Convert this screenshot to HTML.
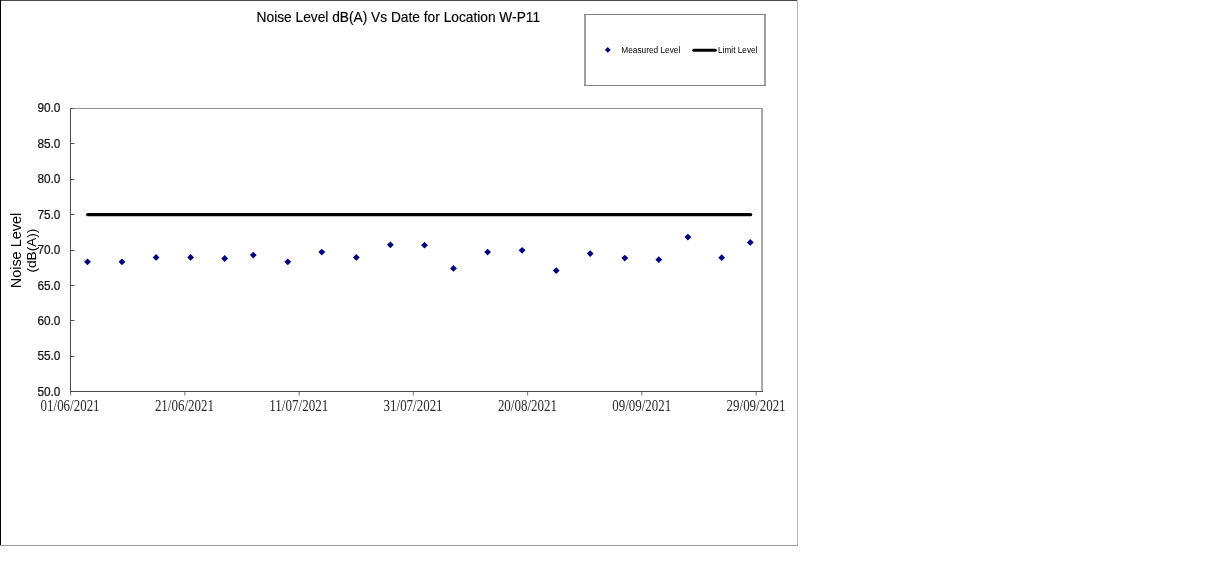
<!DOCTYPE html>
<html lang="en"><head><meta charset="utf-8"><title>Noise Level dB(A) Vs Date for Location W-P11</title>
<style>
html,body{margin:0;padding:0;background:#fff;}
body{width:1207px;height:570px;overflow:hidden;position:relative;}
svg{position:absolute;left:0;top:0;display:block;}
text{font-family:"Liberation Sans",Arial,sans-serif;fill:#000;}
.yl{fill:#111;stroke:#111;stroke-width:0.2px;}
.xl{font-family:"Liberation Serif","Times New Roman",serif;fill:#2a2a2a;}
</style></head><body>
<svg width="1207" height="570" viewBox="0 0 1207 570">
<rect x="0" y="0" width="1207" height="570" fill="#fff"/>

<g shape-rendering="crispEdges">
<rect x="0" y="0" width="798" height="1" fill="#4a4a4a"/>
<rect x="0" y="0" width="1" height="546" fill="#000"/>
<rect x="797" y="0" width="1" height="546" fill="#b8b8b8"/>
<rect x="0" y="545" width="798" height="1" fill="#999"/>
<rect x="70" y="108" width="693" height="1" fill="#8c8c8c"/>
<rect x="761" y="108" width="2" height="284" fill="#a8a8a8"/>
<rect x="71" y="108" width="3" height="1" fill="#555"/>
<rect x="74" y="108" width="1" height="1" fill="#aaa"/>
<rect x="71" y="143" width="3" height="1" fill="#555"/>
<rect x="74" y="143" width="1" height="1" fill="#aaa"/>
<rect x="71" y="179" width="3" height="1" fill="#555"/>
<rect x="74" y="179" width="1" height="1" fill="#aaa"/>
<rect x="71" y="214" width="3" height="1" fill="#555"/>
<rect x="74" y="214" width="1" height="1" fill="#aaa"/>
<rect x="71" y="250" width="3" height="1" fill="#555"/>
<rect x="74" y="250" width="1" height="1" fill="#aaa"/>
<rect x="71" y="285" width="3" height="1" fill="#555"/>
<rect x="74" y="285" width="1" height="1" fill="#aaa"/>
<rect x="71" y="320" width="3" height="1" fill="#555"/>
<rect x="74" y="320" width="1" height="1" fill="#aaa"/>
<rect x="71" y="356" width="3" height="1" fill="#555"/>
<rect x="74" y="356" width="1" height="1" fill="#aaa"/>
<rect x="71" y="391" width="3" height="1" fill="#555"/>
<rect x="74" y="391" width="1" height="1" fill="#aaa"/>
<rect x="70" y="108" width="1" height="284" fill="#4c4c4c"/>
<rect x="70" y="391" width="693" height="1" fill="#4c4c4c"/>
<rect x="584" y="14" width="2" height="72" fill="#a0a0a0"/>
<rect x="764" y="14" width="2" height="72" fill="#a0a0a0"/>
<rect x="584" y="14" width="182" height="1" fill="#808080"/>
<rect x="584" y="85" width="182" height="1" fill="#808080"/>
</g>
<rect x="70.10" y="392" width="1" height="3.4" fill="#707070"/>
<rect x="184.35" y="392" width="1" height="3.4" fill="#707070"/>
<rect x="298.60" y="392" width="1" height="3.4" fill="#707070"/>
<rect x="412.85" y="392" width="1" height="3.4" fill="#707070"/>
<rect x="527.10" y="392" width="1" height="3.4" fill="#707070"/>
<rect x="641.35" y="392" width="1" height="3.4" fill="#707070"/>
<rect x="755.60" y="392" width="1" height="3.4" fill="#707070"/>
<text x="256.6" y="22" font-size="13.9" stroke="#000" stroke-width="0.15" textLength="283.5" lengthAdjust="spacingAndGlyphs">Noise Level dB(A) Vs Date for Location W-P11</text>
<text class="yl" x="37.4" y="112.10" font-size="12.1" textLength="23" lengthAdjust="spacingAndGlyphs">90.0</text>
<text class="yl" x="37.4" y="147.58" font-size="12.1" textLength="23" lengthAdjust="spacingAndGlyphs">85.0</text>
<text class="yl" x="37.4" y="183.06" font-size="12.1" textLength="23" lengthAdjust="spacingAndGlyphs">80.0</text>
<text class="yl" x="37.4" y="218.54" font-size="12.1" textLength="23" lengthAdjust="spacingAndGlyphs">75.0</text>
<text class="yl" x="37.4" y="254.02" font-size="12.1" textLength="23" lengthAdjust="spacingAndGlyphs">70.0</text>
<text class="yl" x="37.4" y="289.50" font-size="12.1" textLength="23" lengthAdjust="spacingAndGlyphs">65.0</text>
<text class="yl" x="37.4" y="324.98" font-size="12.1" textLength="23" lengthAdjust="spacingAndGlyphs">60.0</text>
<text class="yl" x="37.4" y="360.46" font-size="12.1" textLength="23" lengthAdjust="spacingAndGlyphs">55.0</text>
<text class="yl" x="37.4" y="395.94" font-size="12.1" textLength="23" lengthAdjust="spacingAndGlyphs">50.0</text>
<text class="xl" x="40.6" y="410.8" font-size="15.7" textLength="59" lengthAdjust="spacingAndGlyphs">01/06/2021</text>
<text class="xl" x="154.9" y="410.8" font-size="15.7" textLength="59" lengthAdjust="spacingAndGlyphs">21/06/2021</text>
<text class="xl" x="269.3" y="410.8" font-size="15.7" textLength="59" lengthAdjust="spacingAndGlyphs">11/07/2021</text>
<text class="xl" x="383.6" y="410.8" font-size="15.7" textLength="59" lengthAdjust="spacingAndGlyphs">31/07/2021</text>
<text class="xl" x="497.9" y="410.8" font-size="15.7" textLength="59" lengthAdjust="spacingAndGlyphs">20/08/2021</text>
<text class="xl" x="612.2" y="410.8" font-size="15.7" textLength="59" lengthAdjust="spacingAndGlyphs">09/09/2021</text>
<text class="xl" x="726.6" y="410.8" font-size="15.7" textLength="59" lengthAdjust="spacingAndGlyphs">29/09/2021</text>
<text transform="translate(20.6,288.3) rotate(-90)" font-size="14" textLength="75.5" lengthAdjust="spacingAndGlyphs">Noise Level</text>
<text transform="translate(36.4,272.6) rotate(-90)" font-size="13" textLength="44" lengthAdjust="spacingAndGlyphs">(dB(A))</text>
<line x1="87.7" y1="214.6" x2="750.6" y2="214.6" stroke="#000" stroke-width="3.4" stroke-linecap="round"/>
<path d="M84.1 261.8L87.5 258.4L90.9 261.8L87.5 265.2Z" fill="#000080"/>
<path d="M118.6 261.8L122.0 258.4L125.4 261.8L122.0 265.2Z" fill="#000080"/>
<path d="M152.7 257.4L156.1 254.0L159.5 257.4L156.1 260.8Z" fill="#000080"/>
<path d="M187.2 257.4L190.6 254.0L194.0 257.4L190.6 260.8Z" fill="#000080"/>
<path d="M221.3 258.5L224.7 255.1L228.1 258.5L224.7 261.9Z" fill="#000080"/>
<path d="M249.9 255.1L253.3 251.7L256.7 255.1L253.3 258.5Z" fill="#000080"/>
<path d="M284.4 261.8L287.8 258.4L291.2 261.8L287.8 265.2Z" fill="#000080"/>
<path d="M318.4 252.1L321.8 248.7L325.2 252.1L321.8 255.5Z" fill="#000080"/>
<path d="M352.9 257.4L356.3 254.0L359.7 257.4L356.3 260.8Z" fill="#000080"/>
<path d="M387.0 244.8L390.4 241.4L393.8 244.8L390.4 248.2Z" fill="#000080"/>
<path d="M421.1 245.2L424.5 241.8L427.9 245.2L424.5 248.6Z" fill="#000080"/>
<path d="M450.1 268.4L453.5 265.0L456.9 268.4L453.5 271.8Z" fill="#000080"/>
<path d="M484.2 252.1L487.6 248.7L491.0 252.1L487.6 255.5Z" fill="#000080"/>
<path d="M518.7 250.3L522.1 246.9L525.5 250.3L522.1 253.7Z" fill="#000080"/>
<path d="M552.8 270.6L556.2 267.2L559.6 270.6L556.2 274.0Z" fill="#000080"/>
<path d="M586.8 253.6L590.2 250.2L593.6 253.6L590.2 257.0Z" fill="#000080"/>
<path d="M621.4 258.1L624.8 254.7L628.2 258.1L624.8 261.5Z" fill="#000080"/>
<path d="M655.4 259.7L658.8 256.3L662.2 259.7L658.8 263.1Z" fill="#000080"/>
<path d="M684.5 237.1L687.9 233.7L691.3 237.1L687.9 240.5Z" fill="#000080"/>
<path d="M718.3 257.7L721.7 254.3L725.1 257.7L721.7 261.1Z" fill="#000080"/>
<path d="M746.9 242.4L750.3 239.0L753.7 242.4L750.3 245.8Z" fill="#000080"/>
<path d="M604.9 49.9L607.8 47.0L610.7 49.9L607.8 52.8Z" fill="#000080"/>
<text x="621.3" y="52.7" font-size="8.5" textLength="59" lengthAdjust="spacingAndGlyphs">Measured Level</text>
<line x1="693.8" y1="50.3" x2="715.3" y2="50.3" stroke="#000" stroke-width="3" stroke-linecap="round"/>
<text x="718" y="52.7" font-size="8.5" textLength="39.5" lengthAdjust="spacingAndGlyphs">Limit Level</text>
</svg></body></html>
